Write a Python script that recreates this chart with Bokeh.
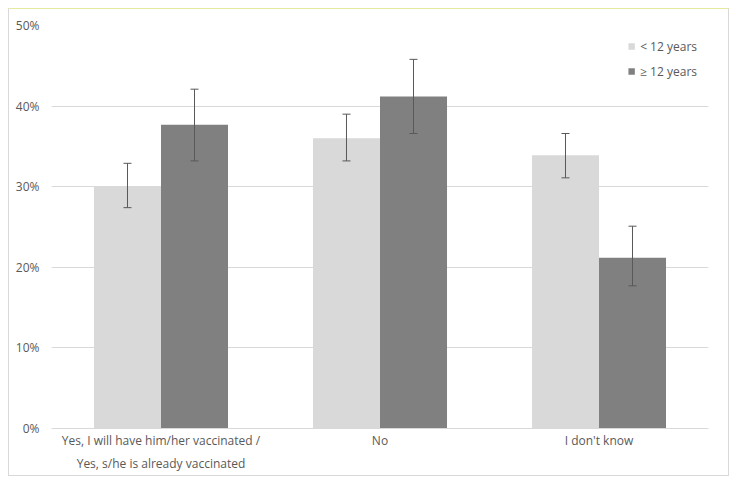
from bokeh.plotting import figure
from bokeh.models import ColumnDataSource, FactorRange, Whisker, TeeHead, NumeralTickFormatter, FixedTicker, Legend, LegendItem
from bokeh.transform import dodge
from bokeh.embed import file_html
from bokeh.resources import INLINE

categories = ["Yes, I will have him/her vaccinated /\nYes, s/he is already vaccinated", "No", "I don't know"]
series_names = ["< 12 years", "\u2265 12 years"]
under12 = [30.0, 36.0, 33.9]
under12_lo = [27.4, 33.2, 31.1]
under12_hi = [32.9, 39.0, 36.6]
over12 = [37.7, 41.2, 21.2]
over12_lo = [33.2, 36.6, 17.7]
over12_hi = [42.1, 45.8, 25.1]
y_ticks = [0, 0.1, 0.2, 0.3, 0.4, 0.5]

FONT = "Open Sans"
TXT = "#595959"

src = ColumnDataSource(dict(
    cat=categories,
    u=[v / 100 for v in under12], ulo=[v / 100 for v in under12_lo], uhi=[v / 100 for v in under12_hi],
    o=[v / 100 for v in over12], olo=[v / 100 for v in over12_lo], ohi=[v / 100 for v in over12_hi],
))

p = figure(x_range=FactorRange(factors=categories), y_range=(0, 0.5),
           frame_width=657, frame_height=403, output_backend="svg", toolbar_location=None,
           min_border_left=42, min_border_right=20, min_border_top=16, min_border_bottom=47)
p.margin = (8, 8, 8, 8)
p.styles = {"border": "1px solid #d9d9d9", "border-top-color": "#e6ea9e", "box-sizing": "border-box"}
p.outline_line_color = None
p.background_fill_color = "white"
p.border_fill_color = "white"

bw = 0.306
r1 = p.vbar(x=dodge("cat", -bw / 2, range=p.x_range), top="u", width=bw, source=src,
            fill_color="#d9d9d9", line_color=None)
r2 = p.vbar(x=dodge("cat", bw / 2, range=p.x_range), top="o", width=bw, source=src,
            fill_color="#808080", line_color=None)

for off, lo, hi in [(-bw / 2, "ulo", "uhi"), (bw / 2, "olo", "ohi")]:
    w = Whisker(base=dodge("cat", off, range=p.x_range), lower=lo, upper=hi, source=src,
                line_color="#595959", line_width=1, level="overlay",
                lower_head=TeeHead(size=8, line_color="#595959", line_width=1),
                upper_head=TeeHead(size=8, line_color="#595959", line_width=1))
    p.add_layout(w)

p.yaxis.ticker = FixedTicker(ticks=y_ticks)
p.yaxis.formatter = NumeralTickFormatter(format="0%")
p.yaxis.axis_line_color = None
p.yaxis.major_tick_line_color = None
p.yaxis.minor_tick_line_color = None
p.yaxis.major_tick_out = 0
p.yaxis.major_label_text_font = FONT
p.yaxis.major_label_text_font_size = "12px"
p.yaxis.major_label_text_color = TXT
p.yaxis.major_label_standoff = 12

p.xaxis.axis_line_color = "#d9d9d9"
p.xaxis.major_tick_line_color = None
p.xaxis.minor_tick_line_color = None
p.xaxis.major_tick_out = 0
p.xaxis.major_label_text_font = FONT
p.xaxis.major_label_text_font_size = "12px"
p.xaxis.major_label_text_color = TXT
p.xaxis.major_label_text_line_height = 1.4
p.xaxis.major_label_standoff = 3

p.xgrid.grid_line_color = None
p.ygrid.grid_line_color = "#d9d9d9"
p.ygrid.ticker = FixedTicker(ticks=y_ticks)

legend = Legend(items=[LegendItem(label=series_names[0], renderers=[r1]),
                       LegendItem(label=series_names[1], renderers=[r2])],
                location="top_right", border_line_color=None, background_fill_alpha=0,
                glyph_width=8, glyph_height=8, label_text_font=FONT, label_text_font_size="12px",
                label_text_color=TXT, label_standoff=5, spacing=5, padding=0, margin=11,
                label_height=20)
p.add_layout(legend)

open("out.html", "w").write(file_html(p, INLINE))
